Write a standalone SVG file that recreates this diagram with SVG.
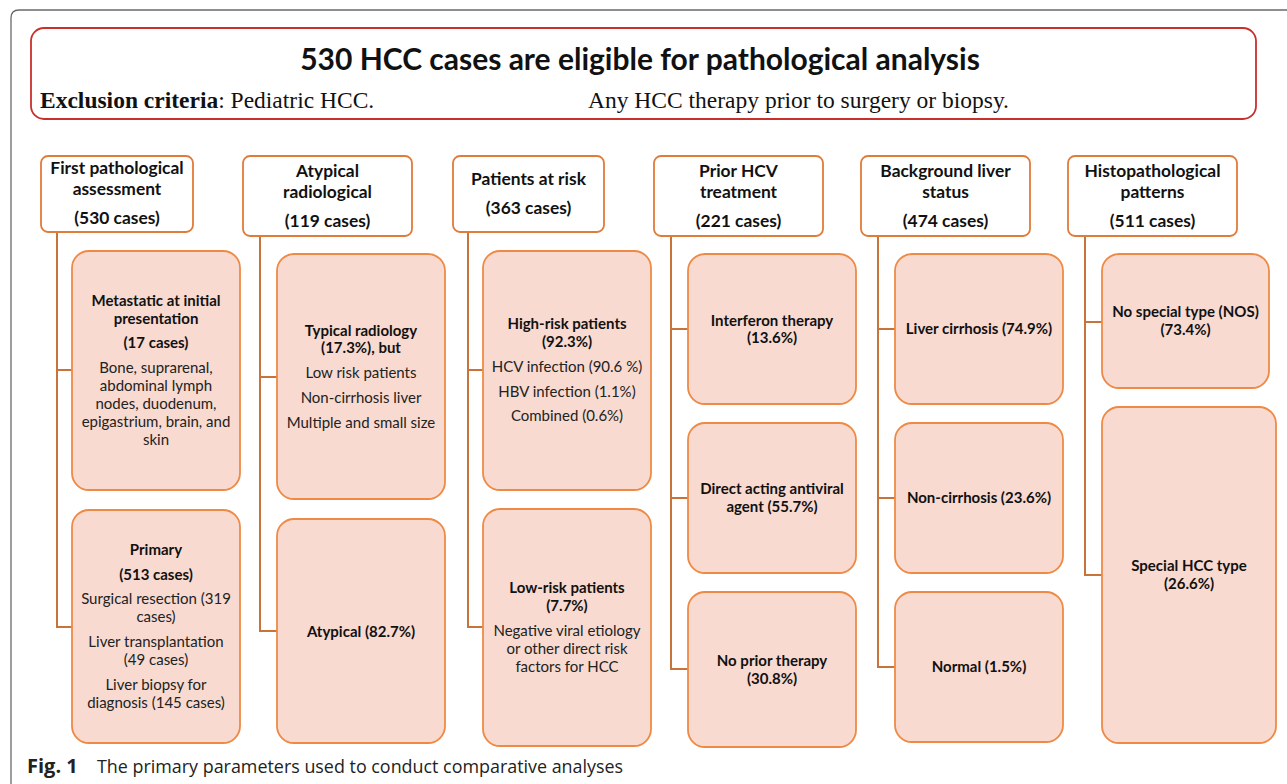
<svg xmlns="http://www.w3.org/2000/svg" width="1287" height="784" viewBox="0 0 1287 784">
<style>
.hdr{fill:#fff;stroke:#E07B39;stroke-width:1.8}
.box{fill:#F8DAD0;stroke:#EE8A45;stroke-width:1.8}
.ln{stroke:#C8733A;stroke-width:2;fill:none}
text{font-family:Lato,"Liberation Sans",sans-serif;fill:#111;text-anchor:middle}
.h{font-size:17.4px;font-weight:bold}
.b{font-size:15px;font-weight:bold}
.t{font-size:15px;fill:#222}
.cap{font-family:"Open Sans",sans-serif;text-anchor:start;fill:#222}
</style>
<rect width="1287" height="784" fill="#fff"/>
<path d="M11,784 V18 Q11,10 19,10 H1287" fill="none" stroke="#6a6a6a" stroke-width="1.3"/>
<g id="title">
<rect x="31" y="28" width="1225" height="91" rx="13" fill="#fff" stroke="#C9302C" stroke-width="1.8"/>
<text x="640" y="70" style="font-size:30px;font-weight:bold">530 HCC cases are eligible for pathological analysis</text>
<text x="40" y="108" style="font-family:'Liberation Serif',serif;font-size:23.5px;text-anchor:start"><tspan font-weight="bold">Exclusion criteria</tspan>: Pediatric HCC.</text>
<text x="588" y="108" style="font-family:'Liberation Serif',serif;font-size:23.5px;text-anchor:start">Any HCC therapy prior to surgery or biopsy.</text>
</g>
<g id="connectors">
<path class="ln" d="M57,232 V627 H72 M57,370 H72"/>
<path class="ln" d="M260,236 V631 H277 M260,377 H277"/>
<path class="ln" d="M468,232 V627 H483 M468,370 H483"/>
<path class="ln" d="M671,236 V669 H688 M671,329 H688 M671,498 H688"/>
<path class="ln" d="M878,236 V667 H895 M878,329 H895 M878,498 H895"/>
<path class="ln" d="M1085,236 V575 H1102 M1085,322 H1102"/>
</g>
<g id="h1"><rect class="hdr" x="41" y="156" width="152" height="76" rx="7"/>
<text class="h" x="117" y="174">First pathological</text><text class="h" x="117" y="195">assessment</text><text class="h" x="117" y="224">(530 cases)</text></g>
<g id="h2"><rect class="hdr" x="243" y="156" width="169" height="80" rx="7"/>
<text class="h" x="327.5" y="177">Atypical</text><text class="h" x="327.5" y="198">radiological</text><text class="h" x="327.5" y="227">(119 cases)</text></g>
<g id="h3"><rect class="hdr" x="453" y="156" width="151" height="76" rx="7"/>
<text class="h" x="528.5" y="185">Patients at risk</text><text class="h" x="528.5" y="214">(363 cases)</text></g>
<g id="h4"><rect class="hdr" x="654" y="156" width="169" height="80" rx="7"/>
<text class="h" x="738.5" y="177">Prior HCV</text><text class="h" x="738.5" y="198">treatment</text><text class="h" x="738.5" y="227">(221 cases)</text></g>
<g id="h5"><rect class="hdr" x="861" y="156" width="169" height="80" rx="7"/>
<text class="h" x="945.5" y="177">Background liver</text><text class="h" x="945.5" y="198">status</text><text class="h" x="945.5" y="227">(474 cases)</text></g>
<g id="h6"><rect class="hdr" x="1068" y="156" width="169" height="80" rx="7"/>
<text class="h" x="1152.5" y="177">Histopathological</text><text class="h" x="1152.5" y="198">patterns</text><text class="h" x="1152.5" y="227">(511 cases)</text></g>

<g id="n_metastatic"><rect class="box" x="72" y="251" width="168" height="239" rx="17"/>
<text class="b" x="156" y="306">Metastatic at initial</text><text class="b" x="156" y="324">presentation</text><text class="b" x="156" y="348">(17 cases)</text>
<text class="t" x="156" y="373">Bone, suprarenal,</text><text class="t" x="156" y="391">abdominal lymph</text><text class="t" x="156" y="409">nodes, duodenum,</text><text class="t" x="156" y="427">epigastrium, brain, and</text><text class="t" x="156" y="445">skin</text></g>
<g id="n_primary"><rect class="box" x="72" y="510" width="168" height="233" rx="17"/>
<text class="b" x="156" y="555">Primary</text><text class="b" x="156" y="580">(513 cases)</text>
<text class="t" x="156" y="604">Surgical resection (319</text><text class="t" x="156" y="622">cases)</text><text class="t" x="156" y="647">Liver transplantation</text><text class="t" x="156" y="665">(49 cases)</text><text class="t" x="156" y="690">Liver biopsy for</text><text class="t" x="156" y="708">diagnosis (145 cases)</text></g>

<g id="n_typical"><rect class="box" x="277" y="254" width="168" height="245" rx="17"/>
<text class="b" x="361" y="336">Typical radiology</text><text class="b" x="361" y="353">(17.3%), but</text>
<text class="t" x="361" y="378">Low risk patients</text><text class="t" x="361" y="403">Non-cirrhosis liver</text><text class="t" x="361" y="428">Multiple and small size</text></g>
<g id="n_atypical"><rect class="box" x="277" y="519" width="168" height="224" rx="17"/>
<text class="b" x="361" y="637">Atypical (82.7%)</text></g>

<g id="n_highrisk"><rect class="box" x="483" y="251" width="168" height="239" rx="17"/>
<text class="b" x="567" y="329">High-risk patients</text><text class="b" x="567" y="347">(92.3%)</text>
<text class="t" x="567" y="372">HCV infection (90.6 %)</text><text class="t" x="567" y="397">HBV infection (1.1%)</text><text class="t" x="567" y="421">Combined (0.6%)</text></g>
<g id="n_lowrisk"><rect class="box" x="483" y="509" width="168" height="237" rx="17"/>
<text class="b" x="567" y="593">Low-risk patients</text><text class="b" x="567" y="611">(7.7%)</text>
<text class="t" x="567" y="636">Negative viral etiology</text><text class="t" x="567" y="654">or other direct risk</text><text class="t" x="567" y="672">factors for HCC</text></g>

<g id="n_interferon"><rect class="box" x="688" y="254" width="168" height="150" rx="17"/>
<text class="b" x="772" y="326">Interferon therapy</text><text class="b" x="772" y="343">(13.6%)</text></g>
<g id="n_daa"><rect class="box" x="688" y="423" width="168" height="150" rx="17"/>
<text class="b" x="772" y="494">Direct acting antiviral</text><text class="b" x="772" y="512">agent (55.7%)</text></g>
<g id="n_noprior"><rect class="box" x="688" y="592" width="168" height="155" rx="17"/>
<text class="b" x="772" y="666">No prior therapy</text><text class="b" x="772" y="684">(30.8%)</text></g>

<g id="n_cirrhosis"><rect class="box" x="895" y="254" width="168" height="150" rx="17"/>
<text class="b" x="979" y="334">Liver cirrhosis (74.9%)</text></g>
<g id="n_noncirrhosis"><rect class="box" x="895" y="423" width="168" height="150" rx="17"/>
<text class="b" x="979" y="503">Non-cirrhosis (23.6%)</text></g>
<g id="n_normal"><rect class="box" x="895" y="592" width="168" height="150" rx="17"/>
<text class="b" x="979" y="672">Normal (1.5%)</text></g>

<g id="n_nos"><rect class="box" x="1102" y="254" width="167" height="134" rx="17"/>
<text class="b" x="1185.5" y="317">No special type (NOS)</text><text class="b" x="1185.5" y="335">(73.4%)</text></g>
<g id="n_special"><rect class="box" x="1102" y="407" width="174" height="336" rx="17"/>
<text class="b" x="1189" y="571">Special HCC type</text><text class="b" x="1189" y="589">(26.6%)</text></g>

<text class="cap" x="27" y="773" style="font-size:20px;font-weight:bold">Fig. 1</text>
<text class="cap" x="97" y="773" style="font-size:17.9px">The primary parameters used to conduct comparative analyses</text>
</svg>
